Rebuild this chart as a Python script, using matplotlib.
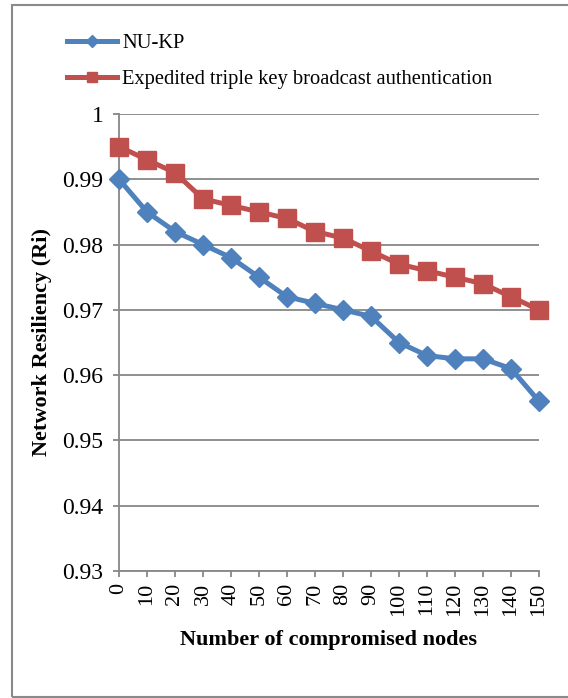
import matplotlib
matplotlib.use("Agg")
import matplotlib.pyplot as plt
from matplotlib.patches import Rectangle

# number of compromised nodes (category axis)
nodes = [0, 10, 20, 30, 40, 50, 60, 70, 80, 90, 100, 110, 120, 130, 140, 150]
nukp = [0.990, 0.985, 0.982, 0.980, 0.978, 0.975, 0.972, 0.971, 0.970, 0.969,
        0.965, 0.963, 0.9625, 0.9625, 0.961, 0.956]
expedited = [0.995, 0.993, 0.991, 0.987, 0.986, 0.985, 0.984, 0.982, 0.981, 0.979,
             0.977, 0.976, 0.975, 0.974, 0.972, 0.970]
yticks = [0.93, 0.94, 0.95, 0.96, 0.97, 0.98, 0.99, 1.0]
ytick_labels = ["0.93", "0.94", "0.95", "0.96", "0.97", "0.98", "0.99", "1"]

plt.rcParams['font.family'] = ['Liberation Serif', 'DejaVu Serif']

BLUE = '#4F81BD'
RED = '#C0504D'
GRID = '#878787'

fig = plt.figure(figsize=(5.68, 6.98), dpi=100)
ax = fig.add_axes([119 / 568, 1 - 571 / 698, 420 / 568, 457 / 698])

x = list(range(len(nodes)))
ax.plot(x, nukp, color=BLUE, lw=3.6, marker='D', ms=10.5, mfc=BLUE, mec=BLUE,
        label='NU-KP', zorder=3, clip_on=False)
ax.plot(x, expedited, color=RED, lw=3.6, marker='s', ms=13, mfc=RED, mec=RED,
        label='Expedited triple key broadcast authentication', zorder=3, clip_on=False)

ax.set_xlim(0, len(nodes) - 1)
ax.set_ylim(0.93, 1.0)
ax.set_xticks(x)
ax.set_xticklabels([str(n) for n in nodes], rotation=90, fontsize=16)
ax.set_yticks(yticks)
ax.set_yticklabels(ytick_labels, fontsize=17)

ax.yaxis.grid(True, color=GRID, lw=1.3)
ax.set_axisbelow(True)
for side in ('top', 'right'):
    ax.spines[side].set_visible(False)
for side in ('left', 'bottom'):
    ax.spines[side].set_color(GRID)
    ax.spines[side].set_linewidth(1.3)
ax.tick_params(axis='both', color=GRID, width=1.3, length=4.3)
ax.tick_params(axis='y', pad=7)
ax.tick_params(axis='x', pad=4)

ax.set_ylabel('Network Resiliency (Ri)', fontsize=16, fontweight='bold', labelpad=7)
ax.set_xlabel('Number of compromised nodes', fontsize=16, fontweight='bold', labelpad=10)

fig.legend(loc='upper left', bbox_to_anchor=(67 / 568, 1 - 34 / 698), frameon=False,
           fontsize=14.8, handlelength=2.45, handletextpad=0.25, labelspacing=0.8,
           borderaxespad=0, borderpad=0, markerscale=0.6)

# chart area border
fig.patches.append(Rectangle((12 / 568, 1 / 698), 1.0, 692 / 698, transform=fig.transFigure,
                             fill=False, edgecolor='#8a8a8a', lw=1.5))

fig.savefig('out.png', dpi=100)
